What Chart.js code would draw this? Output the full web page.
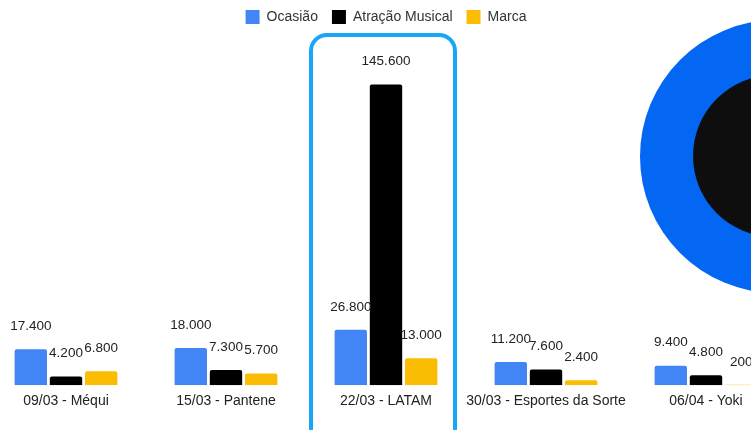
<!DOCTYPE html>
<html>
<head>
<meta charset="utf-8">
<script src="https://cdn.jsdelivr.net/npm/chart.js@4"></script>
<style>
  body { margin: 0; width: 751px; height: 430px; overflow: hidden; background: #fff; position: relative; }
  #wrap { position: absolute; left: -14px; top: 0; width: 800px; height: 430px; }
  #ring { position: absolute; left: 640px; top: 20px; width: 273px; height: 273px; border-radius: 50%; background: #0367f4; }
  #ring div { position: absolute; left: 53px; top: 55px; width: 162px; height: 162px; border-radius: 50%; background: #0e0e0e; }
</style>
</head>
<body>
<div id="wrap"><canvas id="shows"></canvas></div>
<div id="ring"><div></div></div>
<script>
const categories = ["09/03 - Méqui", "15/03 - Pantene", "22/03 - LATAM", "30/03 - Esportes da Sorte", "06/04 - Yoki"];
const ocasiao = [17400, 18000, 26800, 11200, 9400];
const atracao = [4200, 7300, 145600, 7600, 4800];
const marca = [6800, 5700, 13000, 2400, 200];
const highlightIndex = 2;

const fontFamily = "'Liberation Sans', Arial, sans-serif";

function fmt(v) {
  return String(v).replace(/\B(?=(\d{3})+(?!\d))/g, ".");
}

const valueLabels = {
  id: "valueLabels",
  afterDatasetsDraw(chart) {
    const ctx = chart.ctx;
    ctx.save();
    ctx.font = "13.5px " + fontFamily;
    ctx.fillStyle = "#222";
    ctx.textAlign = "center";
    ctx.textBaseline = "middle";
    chart.data.datasets.forEach((ds, i) => {
      chart.getDatasetMeta(i).data.forEach((bar, j) => {
        ctx.fillText(fmt(ds.data[j]), bar.x, bar.y - 23);
      });
    });
    ctx.restore();
  }
};

const highlight = {
  id: "highlight",
  afterDraw(chart) {
    const ctx = chart.ctx;
    const x = chart.scales.x.getPixelForValue(highlightIndex);
    ctx.save();
    ctx.strokeStyle = "#18a6f6";
    ctx.lineWidth = 4;
    ctx.beginPath();
    ctx.roundRect(x - 75, 35, 144, 420, 16);
    ctx.stroke();
    ctx.restore();
  }
};

new Chart(document.getElementById("shows"), {
  type: "bar",
  data: {
    labels: categories,
    datasets: [
      { label: "Ocasião", data: ocasiao, backgroundColor: "#4285f4" },
      { label: "Atração Musical", data: atracao, backgroundColor: "#000000" },
      { label: "Marca", data: marca, backgroundColor: "#fbbc04" },
    ],
  },
  options: {
    responsive: true,
    maintainAspectRatio: false,
    animation: false,
    layout: { padding: { top: -4, bottom: 12, left: 0, right: 0 } },
    datasets: {
      bar: { categoryPercentage: 0.66, barPercentage: 0.92, borderRadius: 2 },
    },
    plugins: {
      legend: {
        position: "top",
        labels: {
          boxWidth: 14,
          boxHeight: 14,
          padding: 14,
          color: "#333",
          font: { size: 14, family: fontFamily },
        },
      },
      tooltip: { enabled: false },
    },
    scales: {
      x: {
        grid: { display: false, drawTicks: false },
        border: { display: false },
        ticks: {
          padding: 8,
          color: "#222",
          maxRotation: 0,
          minRotation: 0,
          autoSkip: false,
          font: { size: 14, family: fontFamily },
        },
      },
      y: {
        display: false,
        min: 0,
        max: 170000,
      },
    },
  },
  plugins: [valueLabels, highlight],
});
</script>
</body>
</html>
